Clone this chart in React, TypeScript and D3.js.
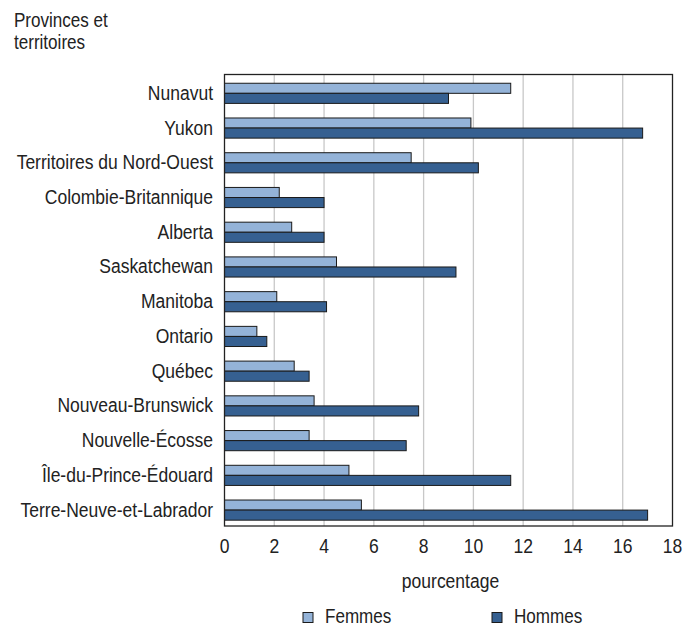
import React from "react";
import * as d3 from "d3";

const provinces = [
  "Nunavut",
  "Yukon",
  "Territoires du Nord-Ouest",
  "Colombie-Britannique",
  "Alberta",
  "Saskatchewan",
  "Manitoba",
  "Ontario",
  "Québec",
  "Nouveau-Brunswick",
  "Nouvelle-Écosse",
  "Île-du-Prince-Édouard",
  "Terre-Neuve-et-Labrador",
];
const femmes = [11.5, 9.9, 7.5, 2.2, 2.7, 4.5, 2.1, 1.3, 2.8, 3.6, 3.4, 5.0, 5.5];
const hommes = [9.0, 16.8, 10.2, 4.0, 4.0, 9.3, 4.1, 1.7, 3.4, 7.8, 7.3, 11.5, 17.0];
const seriesNames = ["Femmes", "Hommes"];
const xTicks = [0, 2, 4, 6, 8, 10, 12, 14, 16, 18];

const colors: Record<string, string> = { Femmes: "#94b3d8", Hommes: "#366091" };
const font = "'Liberation Sans', Arial, sans-serif";

// condensed text: the reference uses a narrow sans, emulate with horizontal scale
function NText(props: { x: number; y: number; anchor?: string; size?: number; dy?: string; children: React.ReactNode }) {
  const { x, y, anchor = "start", size = 20, dy, children } = props;
  return (
    <text transform={`translate(${x},${y}) scale(0.875,1)`} textAnchor={anchor} fontSize={size} dy={dy}>
      {children}
    </text>
  );
}

export default function App() {
  const width = 693;
  const height = 628;
  const left = 224.5;
  const right = 672.5;
  const top = 74.5;
  const bottom = 526;

  const x = d3.scaleLinear().domain([0, 18]).range([left, right]);
  const y = d3.scaleBand<string>().domain(provinces).range([top, bottom])
    .paddingInner(0.42).paddingOuter(0.21).align(0.6);
  const ySub = d3.scaleBand<string>().domain(seriesNames).range([0, y.bandwidth()]);

  const rows = provinces.map((p, i) => ({ p, vals: [femmes[i], hommes[i]] }));

  return (
    <svg width={width} height={height} style={{ position: "absolute", left: 0, top: 0 }}
      fontFamily={font} fill="#222">
      <rect width={width} height={height} fill="#fff" />
      <NText x={14} y={26.5} size={19.5}>Provinces et</NText>
      <NText x={14} y={49} size={19.5}>territoires</NText>

      {/* grid */}
      {xTicks.slice(1, -1).map((t) => (
        <line key={t} x1={x(t)} x2={x(t)} y1={top} y2={bottom} stroke="#c8c8c8" strokeWidth={1.3} />
      ))}

      {rows.map((r) => (
        <g key={r.p} transform={`translate(0,${y(r.p)})`}>
          {r.vals.map((v, j) => (
            <rect key={j} x={x(0)} y={ySub(seriesNames[j])} width={x(v) - x(0)}
              height={ySub.bandwidth()} fill={colors[seriesNames[j]]} stroke="#1a1a1a" strokeWidth={1} />
          ))}
          <NText x={213} y={y.bandwidth() / 2 - 0.5} dy="0.35em" anchor="end">{r.p}</NText>
        </g>
      ))}

      <rect x={left} y={top} width={right - left} height={bottom - top} fill="none" stroke="#222" strokeWidth={1.3} />

      {xTicks.map((t) => (
        <NText key={t} x={x(t)} y={553} anchor="middle">{t}</NText>
      ))}
      <NText x={(left + right) / 2 + 2} y={588} anchor="middle">pourcentage</NText>

      {seriesNames.map((s, i) => {
        const lx = i === 0 ? 303 : 492;
        return (
          <g key={s}>
            <rect x={lx} y={612.5} width={10} height={10} fill={colors[s]} stroke="#1a1a1a" strokeWidth={1} />
            <NText x={lx + 22} y={623} size={19.5}>{s}</NText>
          </g>
        );
      })}
    </svg>
  );
}
